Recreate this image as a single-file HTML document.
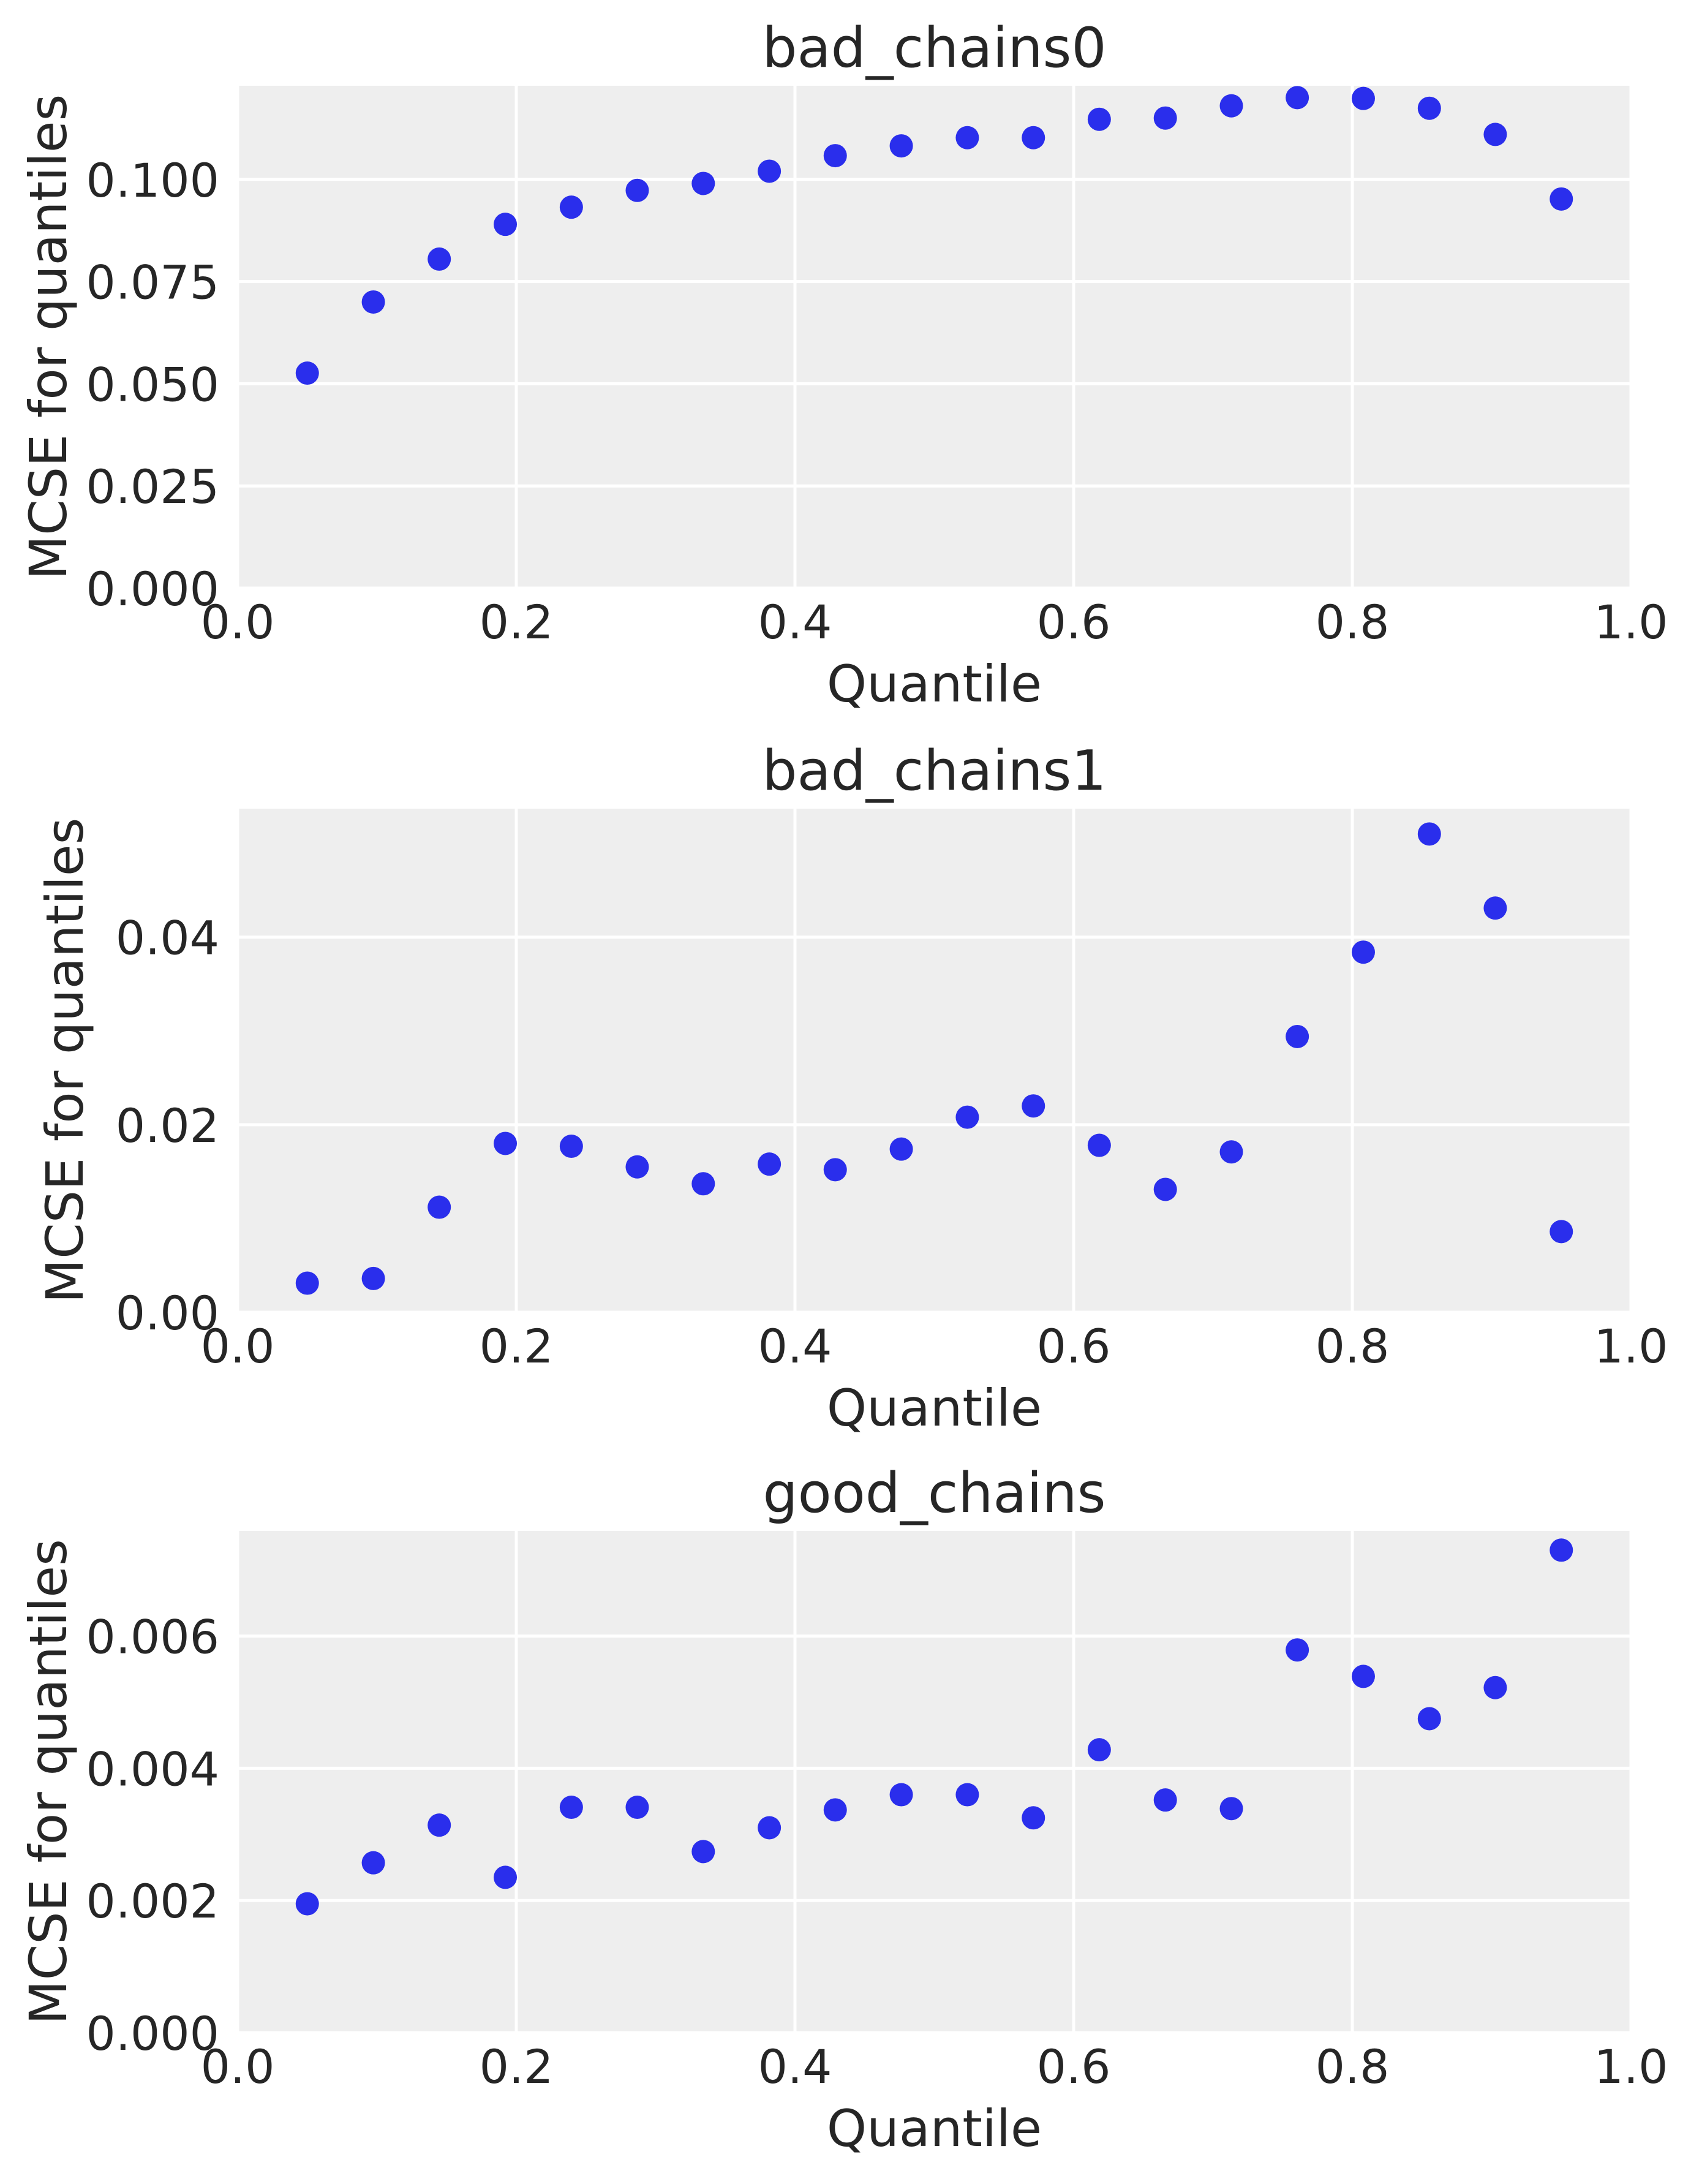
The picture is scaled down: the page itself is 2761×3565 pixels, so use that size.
<!DOCTYPE html>
<html><head><meta charset="utf-8"><style>
html,body{margin:0;padding:0;background:#fff;}
svg text{font-family:"DejaVu Sans","Liberation Sans",sans-serif;fill:#262626;}
</style></head><body>
<svg id="chart" xmlns="http://www.w3.org/2000/svg" width="2761" height="3560" viewBox="0 0 2761 3560"></svg>
<script>
const quantiles = [0.05,0.0974,0.1447,0.1921,0.2395,0.2868,0.3342,0.3816,0.4289,0.4763,0.5237,0.5711,0.6184,0.6658,0.7132,0.7605,0.8079,0.8553,0.9026,0.95];
const badChains0 = [0.0526,0.070,0.0805,0.089,0.0932,0.0973,0.099,0.102,0.1058,0.1082,0.1102,0.1102,0.1147,0.115,0.118,0.120,0.1198,0.1174,0.111,0.0952];
const badChains1 = [0.0031,0.0036,0.0112,0.018,0.0177,0.0155,0.0137,0.0158,0.0152,0.0174,0.0208,0.022,0.0178,0.0131,0.0171,0.0294,0.0384,0.051,0.0431,0.0086];
const goodChains = [0.00195,0.00257,0.00314,0.00235,0.00341,0.00341,0.00274,0.0031,0.00337,0.0036,0.0036,0.00325,0.00428,0.00352,0.00339,0.00579,0.00539,0.00475,0.00522,0.0073];
const titles = ["bad_chains0","bad_chains1","good_chains"];
const yTicks0 = ["0.000","0.025","0.050","0.075","0.100"];
const yTicks1 = ["0.00","0.02","0.04"];
const yTicks2 = ["0.000","0.002","0.004","0.006"];
const xTicks = ["0.0","0.2","0.4","0.6","0.8","1.0"];
const yMaxes = [0.1229,0.0537,0.00759];

const NS="http://www.w3.org/2000/svg";
const svg=document.getElementById('chart');
function mk(tag,attrs,parent){const e=document.createElementNS(NS,tag);for(const k in attrs)e.setAttribute(k,attrs[k]);(parent||svg).appendChild(e);return e;}
const X0=388,X1=2663;
const panels=[{top:140,bot:960,vals:badChains0,ticks:yTicks0},{top:1320,bot:2142,vals:badChains1,ticks:yTicks1},{top:2499,bot:3318,vals:goodChains,ticks:yTicks2}];
panels.forEach((p,i)=>{
  const g=mk('g',{});
  
  
  const ymax=yMaxes[i];
  const sx=v=>X0+v*(X1-X0);
  const sy=v=>p.bot-v/ymax*(p.bot-p.top);
  const bg=mk('rect',{x:X0,y:p.top,width:X1-X0,height:p.bot-p.top,fill:'#eeeeee'},g);
  
  
  xTicks.forEach(t=>{
    const x=sx(parseFloat(t));
    mk('line',{x1:x,x2:x,y1:p.top,y2:p.bot,stroke:'#fff','stroke-width':5},g);
    const tx=mk('text',{x:x,y:p.bot+82,'font-size':76,'text-anchor':'middle'},g);
    tx.textContent=t;
    
    
  });
  p.ticks.forEach(t=>{
    const y=sy(parseFloat(t));
    mk('line',{x1:X0,x2:X1,y1:y,y2:y,stroke:'#fff','stroke-width':5},g);
    const ty=mk('text',{x:358,y:y+28,'font-size':76,'text-anchor':'end'},g);
    ty.textContent=t;
    
    
  });
  p.vals.forEach((v,j)=>{
    const c=mk('ellipse',{cx:sx(quantiles[j]),cy:sy(v),rx:19,ry:19,fill:'#2a2eec'},g);
    
    
  });
  const ti=mk('text',{x:(X0+X1)/2,y:p.top-31,'font-size':90,'text-anchor':'middle'},g);
  ti.textContent=titles[i];
  
  
  const xl=mk('text',{x:(X0+X1)/2,y:p.bot+185,'font-size':83,'text-anchor':'middle'},g);
  xl.textContent='Quantile';
  
  
  const cy=(p.top+p.bot)/2;
  const yl=mk('text',{x:0,y:0,'font-size':84,'text-anchor':'middle',transform:'translate('+(i===1?135:108)+','+cy+') rotate(-90)'},g);
  yl.textContent='MCSE for quantiles';
  
  
});
</script>
</body></html>
